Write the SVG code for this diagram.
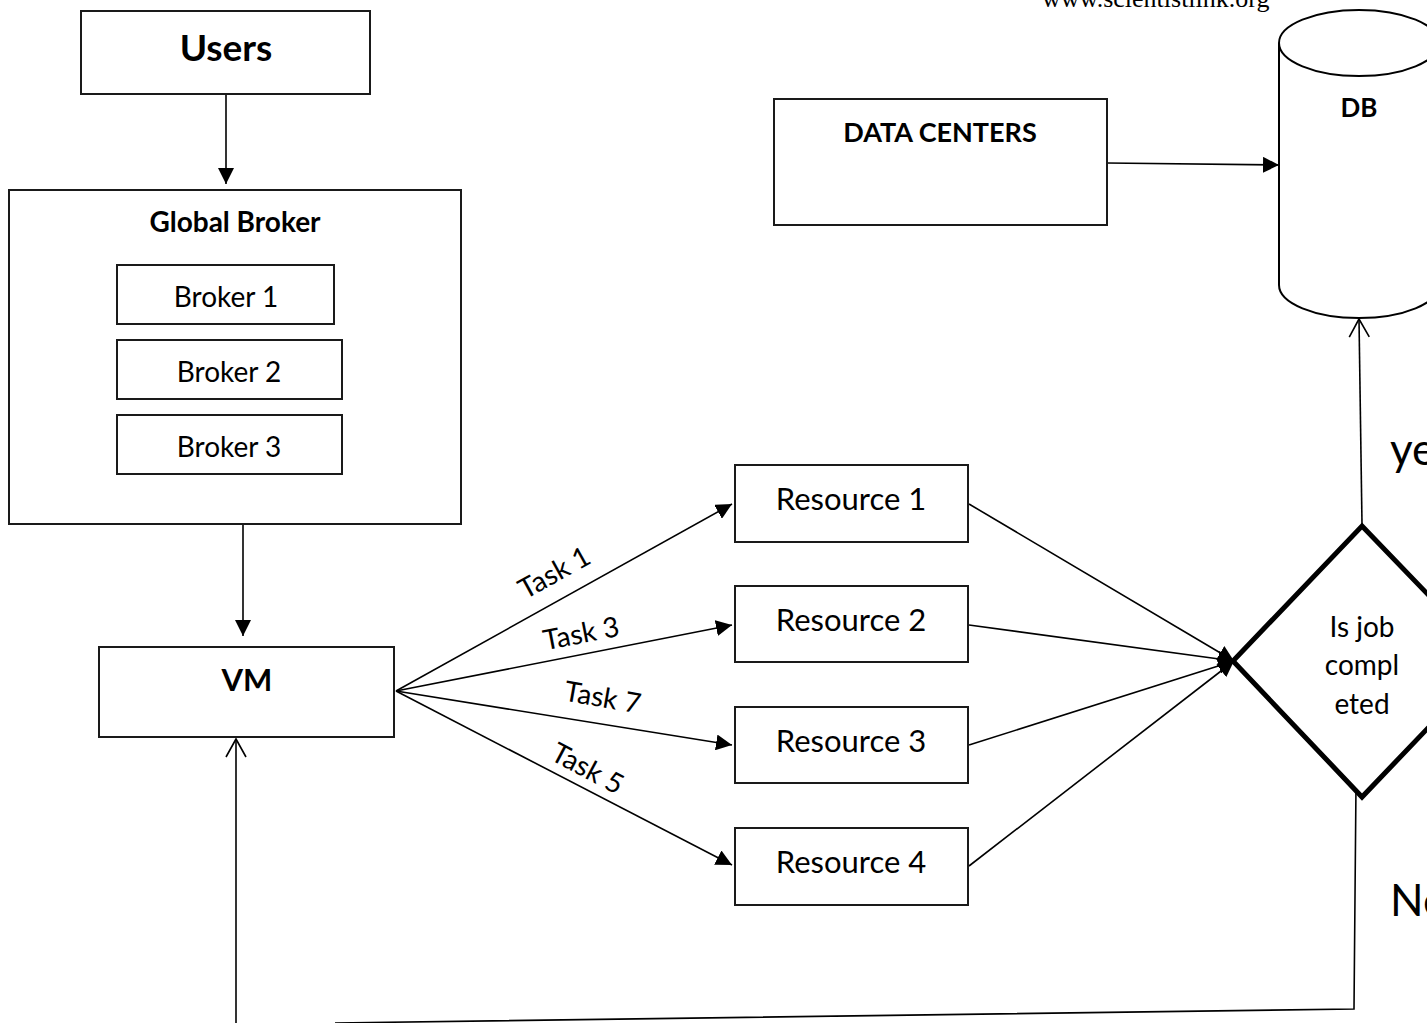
<svg xmlns="http://www.w3.org/2000/svg" width="1427" height="1023" viewBox="0 0 1427 1023">
<defs>
<style>
.box{fill:#fff;stroke:#1a1a1a;stroke-width:2}
.t{font-family:Lato,"Open Sans","Liberation Sans",sans-serif;fill:#000;text-anchor:middle}
.b{font-weight:bold}
.ln{stroke:#000;stroke-width:1.6;fill:none}
</style>
<marker id="fa" markerUnits="userSpaceOnUse" markerWidth="18" markerHeight="16" refX="16" refY="8" orient="auto">
<path d="M0,0 L16,8 L0,16 Z" fill="#000"/>
</marker>
<marker id="oa" markerUnits="userSpaceOnUse" markerWidth="22" markerHeight="24" refX="19" refY="11" orient="auto">
<path d="M1,1 L19,11 L1,21" fill="none" stroke="#000" stroke-width="1.6"/>
</marker>
</defs>
<rect width="1427" height="1023" fill="#fff"/>
<text x="1042" y="7" font-family="Liberation Serif,serif" font-size="26" fill="#000">www.scientistlink.org</text>

<g id="connectors">
<line class="ln" x1="226" y1="94" x2="226" y2="184" marker-end="url(#fa)"/>
<line class="ln" x1="243" y1="524" x2="243" y2="636" marker-end="url(#fa)"/>
<line class="ln" x1="396" y1="691" x2="732" y2="504" marker-end="url(#fa)"/>
<line class="ln" x1="396" y1="691" x2="732" y2="625" marker-end="url(#fa)"/>
<line class="ln" x1="396" y1="691" x2="732" y2="745" marker-end="url(#fa)"/>
<line class="ln" x1="396" y1="691" x2="732" y2="865" marker-end="url(#fa)"/>
<line class="ln" x1="969" y1="504" x2="1234" y2="661" marker-end="url(#fa)"/>
<line class="ln" x1="969" y1="625" x2="1234" y2="661" marker-end="url(#fa)"/>
<line class="ln" x1="969" y1="745" x2="1234" y2="661" marker-end="url(#fa)"/>
<line class="ln" x1="969" y1="866" x2="1234" y2="661" marker-end="url(#fa)"/>
<line class="ln" x1="1107" y1="163" x2="1279" y2="165" marker-end="url(#fa)"/>
<line class="ln" x1="1362" y1="524" x2="1359" y2="319" marker-end="url(#oa)"/>
<polyline class="ln" points="1356,785 1354,1009 335,1023"/>
<line class="ln" x1="236" y1="1023" x2="236" y2="739" marker-end="url(#oa)"/>
<text class="t" font-size="28" transform="translate(559,581) rotate(-29)">Task 1</text>
<text class="t" font-size="28" transform="translate(583,643) rotate(-11)">Task 3</text>
<text class="t" font-size="28" transform="translate(601,707) rotate(10)">Task 7</text>
<text class="t" font-size="28" transform="translate(583,777) rotate(28)">Task 5</text>
<text font-family="Lato,'Open Sans',sans-serif" font-size="44" x="1390" y="465">ye</text>
<text font-family="Lato,'Open Sans',sans-serif" font-size="44" x="1390" y="916">No</text>
</g>

<g id="users">
<rect class="box" x="81" y="11" width="289" height="83"/>
<text class="t b" x="226" y="61" font-size="37">Users</text>
</g>
<g id="global-broker">
<rect class="box" x="9" y="190" width="452" height="334"/>
<text class="t b" x="235" y="232" font-size="28">Global Broker</text>
</g>
<g id="broker1">
<rect class="box" x="117" y="265" width="217" height="59"/>
<text class="t" x="226" y="307" font-size="28">Broker 1</text>
</g>
<g id="broker2">
<rect class="box" x="117" y="340" width="225" height="59"/>
<text class="t" x="229" y="382" font-size="28">Broker 2</text>
</g>
<g id="broker3">
<rect class="box" x="117" y="415" width="225" height="59"/>
<text class="t" x="229" y="457" font-size="28">Broker 3</text>
</g>
<g id="vm">
<rect class="box" x="99" y="647" width="295" height="90"/>
<text class="t b" x="247" y="691" font-size="31">VM</text>
</g>
<g id="resource1">
<rect class="box" x="735" y="465" width="233" height="77"/>
<text class="t" x="851" y="510" font-size="31">Resource 1</text>
</g>
<g id="resource2">
<rect class="box" x="735" y="586" width="233" height="76"/>
<text class="t" x="851" y="631" font-size="31">Resource 2</text>
</g>
<g id="resource3">
<rect class="box" x="735" y="707" width="233" height="76"/>
<text class="t" x="851" y="752" font-size="31">Resource 3</text>
</g>
<g id="resource4">
<rect class="box" x="735" y="828" width="233" height="77"/>
<text class="t" x="851" y="873" font-size="31">Resource 4</text>
</g>
<g id="decision">
<polygon points="1362,526 1492,661 1362,797 1233,661" fill="#fff" stroke="#000" stroke-width="5" stroke-linejoin="miter"/>
<text class="t" x="1362" y="637" font-size="28">Is job</text>
<text class="t" x="1362" y="675" font-size="28">compl</text>
<text class="t" x="1362" y="714" font-size="28">eted</text>
</g>
<g id="data-centers">
<rect class="box" x="774" y="99" width="333" height="126"/>
<text class="t b" x="940" y="142" font-size="27">DATA CENTERS</text>
</g>
<g id="db">
<path d="M1279,43 L1279,285 A80,33 0 0 0 1439,285 L1439,43" fill="#fff" stroke="#000" stroke-width="2"/>
<ellipse cx="1359" cy="43" rx="80" ry="33" fill="#fff" stroke="#000" stroke-width="2"/>
<text class="t b" x="1359" y="117" font-size="26">DB</text>
</g>
</svg>
